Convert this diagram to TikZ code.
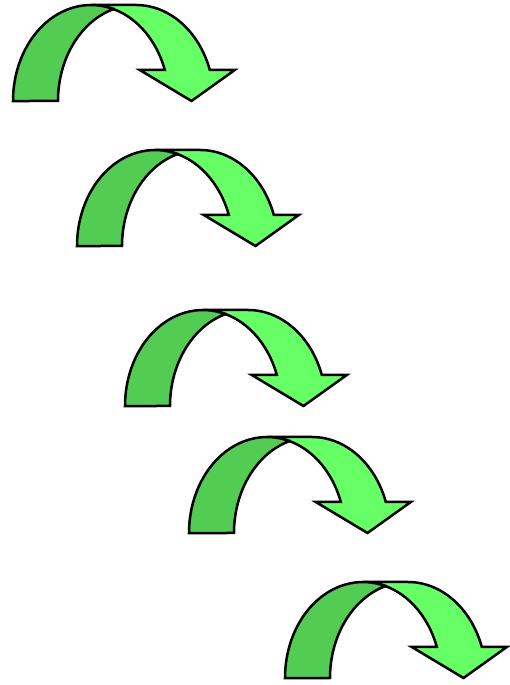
\documentclass[tikz,border=0pt]{standalone}
\definecolor{lightgr}{HTML}{66FF66}
\definecolor{darkgr}{HTML}{52CC52}
\tikzset{
  outline/.style={draw=black, line width=2.5pt, line join=miter, miter limit=6},
  ell/.style={x radius=78pt, y radius=96pt},
  curvedarrow/.pic={
    % light front band with arrow head
    \path[outline, fill=lightgr]
      (178.5pt,0pt) -- (126.8pt,31pt) -- (151.8pt,31pt)
      arc[ell, start angle=18.84, end angle=90]
      -- (123pt,96pt)
      arc[ell, start angle=90, end angle=18.84]
      -- (221.8pt,31pt) -- cycle;
    % darker back band
    \path[outline, fill=darkgr]
      (100.5pt,91.9pt)
      arc[ell, start angle=73.23, end angle=180]
      -- (45pt,0pt)
      arc[ell, start angle=180, end angle=106.77]
      -- cycle;
  }
}
\begin{document}
\begin{tikzpicture}
\useasboundingbox (0pt,0pt) rectangle (510pt,685pt);
\pic (arrowA) at (13pt,584pt) {curvedarrow};
\pic (arrowB) at (77pt,439pt) {curvedarrow};
\pic (arrowC) at (125pt,279pt) {curvedarrow};
\pic (arrowD) at (189pt,152pt) {curvedarrow};
\pic (arrowE) at (285pt,7pt) {curvedarrow};
\end{tikzpicture}
\end{document}
